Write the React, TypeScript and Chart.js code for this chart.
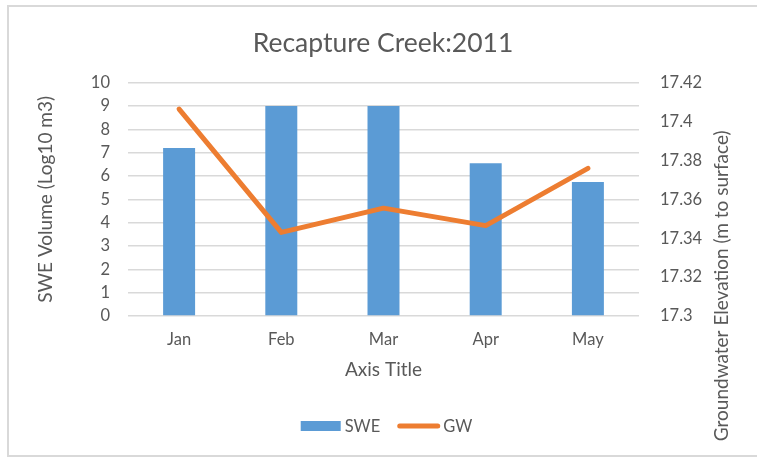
import React, { useEffect, useRef } from 'react';
import { Chart, registerables } from 'chart.js';

Chart.register(...registerables);

// ---- data ----
const categories = ['Jan', 'Feb', 'Mar', 'Apr', 'May'];
const sweValues = [7.2, 9, 9, 6.55, 5.75];
const gwValues = [17.4065, 17.343, 17.3555, 17.3465, 17.376];
const leftTicks = [0, 1, 2, 3, 4, 5, 6, 7, 8, 9, 10];
const rightTicks = [17.3, 17.32, 17.34, 17.36, 17.38, 17.4, 17.42];
const seriesNames = ['SWE', 'GW'];
const chartTitle = 'Recapture Creek:2011';
const xAxisTitle = 'Axis Title';
const leftAxisTitle = 'SWE Volume (Log10 m3)';
const rightAxisTitle = 'Groundwater Elevation (m to surface)';

// ---- styles ----
const FONT = 'Lato';
const TEXT = '#595959';
const GRID = '#d9d9d9';
const BAR = '#5B9BD5';
const LINE = '#ED7D31';
const TICK_SIZE = 16.5;
const AXIS_TITLE_SIZE = 19;
const TITLE_SIZE = 26.5;

const customPlugin = {
  id: 'customDecor',
  afterDraw(chart: any) {
    const { ctx, chartArea } = chart;
    // right axis title (reads bottom-to-top)
    ctx.save();
    ctx.font = `${AXIS_TITLE_SIZE}px ${FONT}`;
    ctx.fillStyle = TEXT;
    ctx.textAlign = 'center';
    ctx.textBaseline = 'middle';
    ctx.translate(chartArea.right + 83, chartArea.top + 203);
    ctx.rotate(-Math.PI / 2);
    ctx.fillText(rightAxisTitle, 0, 0);
    ctx.restore();

    // legend
    ctx.save();
    ctx.font = `${TICK_SIZE}px ${FONT}`;
    ctx.textBaseline = 'middle';
    ctx.textAlign = 'left';
    const w0 = ctx.measureText(seriesNames[0]).width;
    const w1 = ctx.measureText(seriesNames[1]).width;
    const total = 40 + 4 + w0 + 17 + 43 + 3 + w1;
    let x = (chartArea.left + chartArea.right) / 2 + 3 - total / 2;
    const y = chartArea.bottom + 110;
    ctx.fillStyle = BAR;
    ctx.fillRect(x, y - 5, 40, 10);
    x += 44;
    ctx.fillStyle = TEXT;
    ctx.fillText(seriesNames[0], x, y + 1);
    x += w0 + 17;
    ctx.strokeStyle = LINE;
    ctx.lineWidth = 5;
    ctx.lineCap = 'round';
    ctx.beginPath();
    ctx.moveTo(x + 2.5, y);
    ctx.lineTo(x + 40.5, y);
    ctx.stroke();
    x += 46;
    ctx.fillStyle = TEXT;
    ctx.fillText(seriesNames[1], x, y + 1);
    ctx.restore();
  },
};

export default function App() {
  const ref = useRef<HTMLCanvasElement | null>(null);

  useEffect(() => {
    if (!ref.current) return;
    const chart = new Chart(ref.current, {
      type: 'bar',
      data: {
        labels: categories,
        datasets: [
          {
            type: 'line',
            label: seriesNames[1],
            data: gwValues,
            yAxisID: 'y1',
            borderColor: LINE,
            backgroundColor: LINE,
            borderWidth: 5,
            borderCapStyle: 'round',
            borderJoinStyle: 'round',
            pointRadius: 0,
            tension: 0,
            order: 0,
          } as any,
          {
            type: 'bar',
            label: seriesNames[0],
            data: sweValues,
            yAxisID: 'y',
            backgroundColor: BAR,
            categoryPercentage: 1,
            barPercentage: 0.313,
            order: 1,
          },
        ],
      },
      options: {
        responsive: false,
        animation: false,
        layout: { padding: { left: 9, right: 0, top: 0, bottom: 76 } },
        plugins: {
          legend: { display: false },
          tooltip: { enabled: false },
          title: {
            display: true,
            text: chartTitle,
            color: TEXT,
            font: { family: FONT, size: TITLE_SIZE, weight: 'normal' },
            padding: { top: 28, bottom: 23 },
          },
        },
        scales: {
          x: {
            grid: { display: false, drawTicks: false },
            border: { display: false },
            ticks: { color: TEXT, font: { family: FONT, size: TICK_SIZE }, padding: 14 },
            title: {
              display: true,
              text: xAxisTitle,
              color: TEXT,
              font: { family: FONT, size: AXIS_TITLE_SIZE },
              padding: { top: 0, bottom: 0 },
            },
            afterFit: (s: any) => {
              s.height = 65;
            },
          },
          y: {
            position: 'left',
            min: leftTicks[0],
            max: leftTicks[leftTicks.length - 1],
            afterBuildTicks: (s: any) => {
              s.ticks = leftTicks.map((v) => ({ value: v }));
            },
            grid: { color: GRID, lineWidth: 1.5, drawTicks: false },
            border: { display: false },
            ticks: { color: TEXT, font: { family: FONT, size: TICK_SIZE }, padding: 18 },
            title: {
              display: true,
              text: leftAxisTitle,
              color: TEXT,
              font: { family: FONT, size: AXIS_TITLE_SIZE },
              padding: { top: 25.6, bottom: 0 },
            },
            afterFit: (s: any) => {
              s.width = 119;
            },
          },
          y1: {
            position: 'right',
            min: rightTicks[0],
            max: rightTicks[rightTicks.length - 1],
            afterBuildTicks: (s: any) => {
              s.ticks = rightTicks.map((v) => ({ value: v }));
            },
            grid: { drawOnChartArea: false, drawTicks: false },
            border: { display: false },
            ticks: {
              color: TEXT,
              font: { family: FONT, size: TICK_SIZE },
              padding: 21,
              callback: (v: any) => String(Number(Number(v).toFixed(2))),
            },
            afterFit: (s: any) => {
              s.width = 118;
            },
          },
        },
      } as any,
      plugins: [customPlugin],
    });
    return () => chart.destroy();
  }, []);

  return (
    <div
      style={{
        position: 'absolute',
        left: 0,
        top: 0,
        width: 757,
        height: 457,
        overflow: 'hidden',
        background: '#ffffff',
      }}
    >
      <div
        style={{
          position: 'absolute',
          left: 7,
          top: 5,
          width: 800,
          height: 452,
          boxSizing: 'border-box',
          border: `2px solid ${GRID}`,
        }}
      />
      <canvas
        ref={ref}
        width={757}
        height={457}
        style={{ position: 'absolute', left: 0, top: 0, width: 757, height: 457, display: 'block' }}
      />
    </div>
  );
}
